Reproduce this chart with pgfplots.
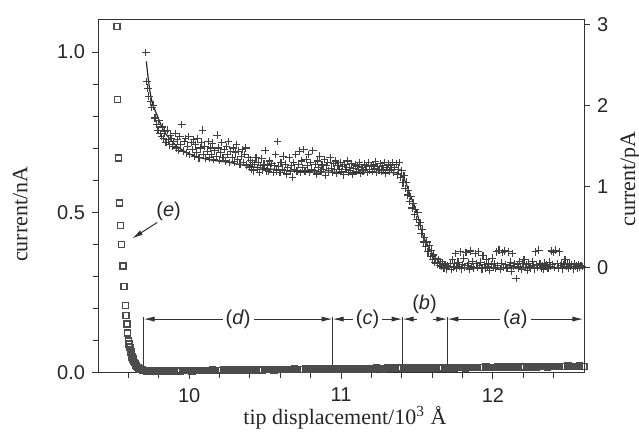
\documentclass[border=0pt]{standalone}
\usepackage{fontspec}
\setmainfont{Liberation Serif}
\setsansfont{Liberation Sans}
\usepackage{pgfplots}
\pgfplotsset{compat=1.18}
\usetikzlibrary{arrows.meta}

\pgfplotsset{
  base/.style={
    scale only axis, width=243pt, height=176.5pt,
    xmin=9.4, xmax=12.6,
    tick align=outside, major tick length=3pt, minor tick length=2.5pt,
    axis line style={black!80, line width=0.5pt},
    every tick/.style={black!80, line width=0.5pt},
    tick label style={font=\sffamily\fontsize{10}{12}\selectfont, text=black!85},
    /pgf/number format/assume math mode=true,
    label style={font=\fontsize{11}{13}\selectfont, text=black!85},
  },
}
\tikzset{
  arr/.style={black!80, line width=0.5pt, {Latex[length=5.5pt,width=2.6pt]}-{Latex[length=5.5pt,width=2.6pt]}},
  lab/.style={font=\sffamily\fontsize{10}{12}\selectfont, text=black!85, fill=white, inner sep=1.5pt},
}

\begin{document}
\begin{tikzpicture}
\begin{axis}[base, name=ax1,
  ymin=0, ymax=1.1,
  xtick={10,11,12},
  minor xtick={9.6,9.8,10.2,10.4,10.6,10.8,11.2,11.4,11.6,11.8,12.2,12.4},
  ytick={0,0.5,1},
  minor ytick={0.1,0.2,0.3,0.4,0.6,0.7,0.8,0.9},
  xtick pos=left, ytick pos=left,
  xticklabel style={yshift=-1pt},
  yticklabel style={/pgf/number format/.cd, fixed, fixed zerofill, precision=1},
  xlabel={tip displacement/10\textsuperscript{3}~Å},
  ylabel={current/nA},
  xlabel style={at={(axis description cs:0.508,-0.128)}, anchor=center},
  ylabel style={at={(axis description cs:-0.16,0.45)}, anchor=center},
]
% (e) approach curve, nA
\addplot[only marks, mark=square, mark size=1.5pt, mark options={black!70, line width=0.7pt}] coordinates {
 (9.525,1.08) (9.530,0.853) (9.535,0.67) (9.540,0.53) (9.550,0.46) (9.555,0.40)
 (9.565,0.334) (9.570,0.27) (9.580,0.21) (9.585,0.18) (9.590,0.153) (9.595,0.125)
 (9.600,0.100) (9.605,0.090) (9.610,0.080) (9.613,0.072) (9.617,0.065) (9.621,0.057)
 (9.625,0.050) (9.630,0.043) (9.635,0.037) (9.640,0.032) (9.645,0.028) (9.650,0.024)
 (9.655,0.021) (9.660,0.018) (9.667,0.015) (9.675,0.013) (9.683,0.011) (9.692,0.009)
 (9.702,0.008) (9.712,0.007) (9.722,0.006)
 (9.735,0.006) (9.750,0.006) (9.765,0.005) (9.780,0.006) (9.795,0.006) (9.810,0.007)
 (9.825,0.006) (9.840,0.006) (9.855,0.005) (9.870,0.006) (9.885,0.007) (9.900,0.006)
 (9.915,0.007) (9.930,0.007) (9.945,0.006) (9.960,0.007) (9.975,0.008) (9.990,0.007)
 (10.005,0.007) (10.020,0.006) (10.035,0.007) (10.050,0.008) (10.065,0.007) (10.080,0.007)
 (10.095,0.008) (10.110,0.008) (10.125,0.007) (10.140,0.008) (10.155,0.009) (10.170,0.008)
 (10.185,0.008) (10.200,0.007) (10.215,0.008) (10.230,0.009) (10.245,0.008) (10.260,0.008)
 (10.275,0.009) (10.290,0.009) (10.305,0.008) (10.320,0.009) (10.335,0.010) (10.350,0.009)
 (10.365,0.009) (10.380,0.008) (10.395,0.009) (10.410,0.010) (10.425,0.009) (10.440,0.009)
 (10.455,0.010) (10.470,0.010) (10.485,0.009) (10.500,0.010) (10.515,0.011) (10.530,0.010)
 (10.545,0.010) (10.560,0.009) (10.575,0.010) (10.590,0.011) (10.605,0.010) (10.620,0.010)
 (10.635,0.011) (10.650,0.011) (10.665,0.010) (10.680,0.011) (10.695,0.012) (10.710,0.011)
 (10.725,0.011) (10.740,0.010) (10.755,0.011) (10.770,0.012) (10.785,0.011) (10.800,0.011)
 (10.815,0.012) (10.830,0.012) (10.845,0.011) (10.860,0.012) (10.875,0.013) (10.890,0.012)
 (10.905,0.012) (10.920,0.011) (10.935,0.012) (10.950,0.013) (10.965,0.012) (10.980,0.012)
 (10.995,0.013) (11.010,0.013) (11.025,0.012) (11.040,0.013) (11.055,0.014) (11.070,0.013)
 (11.085,0.013) (11.100,0.012) (11.115,0.013) (11.130,0.014) (11.145,0.013) (11.160,0.013)
 (11.175,0.014) (11.190,0.014) (11.205,0.013) (11.220,0.014) (11.235,0.015) (11.250,0.014)
 (11.265,0.014) (11.280,0.013) (11.295,0.014) (11.310,0.015) (11.325,0.014) (11.340,0.014)
 (11.355,0.015) (11.370,0.015) (11.385,0.014) (11.400,0.015) (11.415,0.016) (11.430,0.015)
 (11.445,0.015) (11.460,0.014) (11.475,0.015) (11.490,0.016) (11.505,0.015) (11.520,0.015)
 (11.535,0.016) (11.550,0.016) (11.565,0.015) (11.580,0.016) (11.595,0.017) (11.610,0.016)
 (11.625,0.016) (11.640,0.015) (11.655,0.016) (11.670,0.017) (11.685,0.016) (11.700,0.016)
 (11.715,0.017) (11.730,0.017) (11.745,0.016) (11.760,0.017) (11.775,0.018) (11.790,0.017)
 (11.805,0.017) (11.820,0.016) (11.835,0.017) (11.850,0.018) (11.865,0.017) (11.880,0.017)
 (11.895,0.018) (11.910,0.018) (11.925,0.017) (11.940,0.018) (11.955,0.019) (11.970,0.018)
 (11.985,0.018) (12.000,0.017) (12.015,0.018) (12.030,0.019) (12.045,0.018) (12.060,0.018)
 (12.075,0.019) (12.090,0.019) (12.105,0.018) (12.120,0.019) (12.135,0.020) (12.150,0.019)
 (12.165,0.019) (12.180,0.018) (12.195,0.019) (12.210,0.020) (12.225,0.019) (12.240,0.019)
 (12.255,0.020) (12.270,0.020) (12.285,0.019) (12.300,0.020) (12.315,0.021) (12.330,0.020)
 (12.345,0.020) (12.360,0.019) (12.375,0.020) (12.390,0.021) (12.405,0.020) (12.420,0.020)
 (12.435,0.021) (12.450,0.021) (12.465,0.020) (12.480,0.021) (12.495,0.022) (12.510,0.021)
 (12.525,0.021) (12.540,0.020) (12.555,0.021) (12.570,0.022) (12.585,0.021) (12.600,0.021)
};
% interval markers
\draw[black!80, line width=0.5pt] (axis cs:9.70,0) -- (axis cs:9.70,0.176);
\draw[black!80, line width=0.5pt] (axis cs:10.945,0) -- (axis cs:10.945,0.176);
\draw[black!80, line width=0.5pt] (axis cs:11.405,0) -- (axis cs:11.405,0.176);
\draw[black!80, line width=0.5pt] (axis cs:11.70,0) -- (axis cs:11.70,0.176);
\draw[arr] (axis cs:9.70,0.168) -- node[lab]{(\textit{d})} (axis cs:10.945,0.168);
\draw[arr] (axis cs:10.945,0.168) -- node[lab]{(\textit{c})} (axis cs:11.405,0.168);
\draw[black!80, line width=0.5pt, -{Latex[length=5.5pt,width=2.6pt]}] (axis cs:11.50,0.168) -- (axis cs:11.405,0.168);
\draw[black!80, line width=0.5pt, -{Latex[length=5.5pt,width=2.6pt]}] (axis cs:11.605,0.168) -- (axis cs:11.70,0.168);
\node[lab, fill=none] at (axis cs:11.55,0.213) {(\textit{b})};
\draw[arr] (axis cs:11.70,0.168) -- node[lab]{(\textit{a})} (axis cs:12.595,0.168);
\draw[black!80, line width=0.5pt, -{Latex[length=5.5pt,width=2.6pt]}] (axis cs:9.79,0.469) -- (axis cs:9.624,0.419);
\node[lab, fill=none] at (axis cs:9.865,0.503) {(\textit{e})};
\end{axis}

\begin{axis}[base,
  ymin=-1.296, ymax=3.06,
  axis x line=none, axis y line*=right,
  ytick={0,1,2,3}, ytick pos=right,
  ylabel={current/pA},
  ylabel style={at={(axis description cs:1.095,0.55)}, anchor=center},
]
% STM tip current, pA
\addplot[only marks, mark=+, mark size=1.9pt, mark options={black!75, line width=0.55pt}] coordinates {
 (9.715,2.66) (9.722,2.30) (9.728,2.22) (9.735,2.12) (9.745,2.05) (9.755,1.98)
 (9.765,2.00) (9.775,1.85) (9.785,1.77) (9.795,1.70) (9.800,1.82) (9.810,1.66)
 (9.818,1.62) (9.825,1.74) (9.832,1.60) (9.840,1.68) (9.848,1.55) (9.855,1.70)
 (9.862,1.58) (9.870,1.52) (9.878,1.64) (9.885,1.60) (9.893,1.50) (9.900,1.56)
 (9.908,1.66) (9.915,1.48) (9.922,1.58) (9.930,1.45) (9.938,1.62) (9.945,1.52)
 (9.952,1.77) (9.960,1.44) (9.968,1.56) (9.975,1.60) (9.983,1.42) (9.990,1.50)
 (9.998,1.62) (10.005,1.40) (10.013,1.55) (10.020,1.46) (10.028,1.58) (10.035,1.38)
 (10.043,1.52) (10.050,1.42) (10.058,1.60) (10.065,1.36) (10.073,1.48) (10.080,1.55)
 (10.088,1.70) (10.095,1.40) (10.103,1.50) (10.110,1.35) (10.118,1.44) (10.125,1.56)
 (10.133,1.36) (10.140,1.48) (10.148,1.40) (10.155,1.54) (10.163,1.34) (10.170,1.45)
 (10.178,1.38) (10.185,1.64) (10.193,1.48) (10.200,1.33) (10.208,1.42) (10.215,1.55)
 (10.223,1.36) (10.230,1.46) (10.238,1.32) (10.245,1.50) (10.253,1.40) (10.260,1.56)
 (10.268,1.30) (10.275,1.44) (10.283,1.36) (10.290,1.48) (10.298,1.31) (10.305,1.42)
 (10.313,1.52) (10.320,1.34) (10.328,1.44) (10.335,1.28) (10.343,1.38) (10.350,1.46)
 (10.358,1.30) (10.365,1.40) (10.373,1.48) (10.380,1.27) (10.388,1.36) (10.395,1.24)
 (10.403,1.33) (10.410,1.22) (10.418,1.30) (10.425,1.20) (10.433,1.28) (10.440,1.36)
 (10.448,1.22) (10.455,1.30) (10.463,1.18) (10.470,1.26) (10.478,1.35) (10.485,1.21)
 (10.493,1.28) (10.500,1.45) (10.508,1.20) (10.515,1.27) (10.523,1.19) (10.530,1.32)
 (10.538,1.22) (10.545,1.29) (10.553,1.18) (10.560,1.26) (10.568,1.40) (10.575,1.20)
 (10.583,1.56) (10.590,1.25) (10.598,1.18) (10.605,1.30) (10.613,1.22) (10.620,1.38)
 (10.628,1.20) (10.635,1.28) (10.643,1.16) (10.650,1.24) (10.658,1.36) (10.665,1.19)
 (10.673,1.26) (10.680,1.12) (10.688,1.30) (10.695,1.22) (10.703,1.40) (10.710,1.20)
 (10.718,1.28) (10.725,1.44) (10.733,1.18) (10.740,1.32) (10.748,1.24) (10.755,1.46)
 (10.763,1.20) (10.770,1.34) (10.778,1.26) (10.785,1.40) (10.793,1.18) (10.800,1.30)
 (10.808,1.22) (10.815,1.45) (10.823,1.20) (10.830,1.28) (10.838,1.16) (10.845,1.32)
 (10.853,1.24) (10.860,1.38) (10.868,1.19) (10.875,1.27) (10.883,1.22) (10.890,1.34)
 (10.898,1.14) (10.905,1.26) (10.913,1.30) (10.920,1.20) (10.928,1.36) (10.935,1.23)
 (10.943,1.18) (10.950,1.29) (10.958,1.22) (10.965,1.32) (10.973,1.17) (10.980,1.26)
 (10.988,1.21) (10.995,1.30) (11.003,1.19) (11.010,1.25) (11.018,1.15) (11.025,1.28)
 (11.033,1.22) (11.040,1.32) (11.048,1.18) (11.055,1.24) (11.063,1.20) (11.070,1.29)
 (11.078,1.16) (11.085,1.23) (11.093,1.27) (11.100,1.19) (11.108,1.25) (11.115,1.21)
 (11.123,1.30) (11.130,1.17) (11.138,1.24) (11.145,1.20) (11.153,1.28) (11.160,1.22)
 (11.168,1.26) (11.175,1.18) (11.183,1.30) (11.190,1.21) (11.198,1.25) (11.205,1.19)
 (11.213,1.27) (11.220,1.23) (11.228,1.31) (11.235,1.18) (11.243,1.25) (11.250,1.21)
 (11.258,1.29) (11.265,1.20) (11.273,1.26) (11.280,1.22) (11.288,1.30) (11.295,1.17)
 (11.303,1.24) (11.310,1.28) (11.318,1.20) (11.325,1.26) (11.333,1.22) (11.340,1.30)
 (11.348,1.18) (11.355,1.24) (11.363,1.28) (11.370,1.15) (11.378,1.22) (11.385,1.30)
 (11.393,1.12) (11.400,1.20) (11.408,1.05) (11.415,1.14) (11.423,0.98) (11.430,1.06)
 (11.438,0.90) (11.445,0.96) (11.453,0.82) (11.460,0.88) (11.468,0.74) (11.475,0.80)
 (11.483,0.66) (11.490,0.72) (11.498,0.60) (11.505,0.68) (11.513,0.52) (11.520,0.56)
 (11.528,0.42) (11.535,0.48) (11.543,0.32) (11.550,0.38) (11.558,0.26) (11.565,0.32)
 (11.573,0.20) (11.580,0.28) (11.588,0.14) (11.595,0.22) (11.603,0.10) (11.610,0.16)
 (11.618,0.07) (11.625,0.12) (11.633,0.05) (11.640,0.10) (11.648,0.03) (11.655,0.08)
 (11.663,0.02) (11.670,0.06) (11.678,0.00) (11.685,0.04) (11.693,-0.01) (11.700,0.03)
 (11.710,0.02) (11.718,0.06) (11.725,-0.02) (11.733,0.10) (11.740,0.01) (11.748,0.05)
 (11.755,0.18) (11.763,0.00) (11.770,0.07) (11.778,0.02) (11.785,0.20) (11.793,-0.01)
 (11.800,0.04) (11.808,0.12) (11.815,0.01) (11.823,0.19) (11.830,0.03) (11.838,0.06)
 (11.845,-0.02) (11.853,0.21) (11.860,0.02) (11.868,0.08) (11.875,0.00) (11.883,0.18)
 (11.890,0.05) (11.898,0.01) (11.905,0.20) (11.913,0.03) (11.920,0.07) (11.928,-0.01)
 (11.935,0.15) (11.943,0.04) (11.950,0.00) (11.958,0.10) (11.965,0.02) (11.973,0.06)
 (11.980,-0.03) (11.988,0.04) (11.995,0.12) (12.003,0.01) (12.010,0.05) (12.018,0.00)
 (12.025,0.20) (12.033,0.03) (12.040,0.22) (12.048,-0.02) (12.055,0.06) (12.063,0.19)
 (12.070,0.01) (12.078,0.21) (12.085,0.04) (12.093,0.00) (12.100,0.20) (12.108,0.03)
 (12.115,0.07) (12.123,-0.04) (12.130,0.18) (12.138,0.02) (12.145,0.05) (12.153,-0.13)
 (12.160,0.04) (12.168,0.00) (12.175,0.08) (12.183,0.02) (12.190,-0.02) (12.198,0.05)
 (12.205,0.10) (12.213,0.01) (12.220,0.04) (12.228,-0.03) (12.235,0.06) (12.243,0.02)
 (12.250,0.00) (12.258,0.08) (12.265,0.03) (12.273,-0.01) (12.280,0.20) (12.288,0.04)
 (12.295,0.01) (12.303,0.22) (12.310,0.05) (12.318,0.00) (12.325,0.03) (12.333,-0.02)
 (12.340,0.06) (12.348,0.02) (12.355,0.04) (12.363,0.00) (12.370,0.07) (12.378,0.02)
 (12.385,0.21) (12.393,0.04) (12.400,0.19) (12.408,0.01) (12.415,0.22) (12.423,0.05)
 (12.430,0.00) (12.438,0.20) (12.445,0.03) (12.453,0.06) (12.460,-0.01) (12.468,0.04)
 (12.475,0.10) (12.483,0.02) (12.490,0.05) (12.498,0.00) (12.505,0.06) (12.513,0.02)
 (12.520,0.04) (12.528,-0.01) (12.535,0.05) (12.543,0.02) (12.550,0.03) (12.558,0.00)
 (12.565,0.04) (12.573,0.01) (12.580,0.03) (12.590,0.02)
};
% fitted curve
\addplot[black!85, line width=0.6pt, smooth, tension=0.4] coordinates {
 (9.718,2.55) (9.74,2.20) (9.76,2.02) (9.79,1.88) (9.83,1.70) (9.87,1.60)
 (9.92,1.50) (9.98,1.43) (10.05,1.37) (10.15,1.33) (10.27,1.30) (10.38,1.26)
 (10.49,1.23) (10.60,1.21) (10.73,1.19) (11.00,1.18) (11.20,1.18) (11.37,1.17)
 (11.42,1.08) (11.45,0.93) (11.50,0.68) (11.54,0.40) (11.60,0.18) (11.65,0.07)
 (11.69,0.02) (11.80,0.00) (12.20,0.00) (12.60,0.00)
};
\end{axis}
\pgfresetboundingbox
\path[use as bounding box] ([shift={(-49pt,-31.5pt)}]ax1.south west) rectangle ([shift={(27.5pt,10pt)}]ax1.north east);
\end{tikzpicture}
\end{document}
